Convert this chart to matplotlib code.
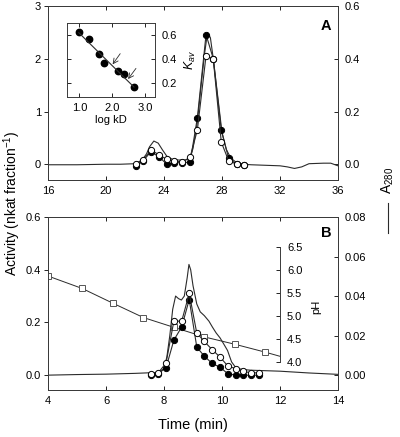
import numpy as np
import matplotlib
matplotlib.use("Agg")
import matplotlib.pyplot as plt
from matplotlib.lines import Line2D
from matplotlib.ticker import FormatStrFormatter

plt.rcParams.update({
    "font.family": ["Liberation Sans", "DejaVu Sans"],
    "font.size": 8,
    "mathtext.fontset": "custom",
    "mathtext.rm": "Liberation Sans",
    "mathtext.it": "Liberation Sans:italic",
    "axes.linewidth": 0.7,
})

# ── inset: calibration (log kD vs Kav) ──────────────────────────────────────
log_kd = [0.98, 1.30, 1.58, 1.76, 2.16, 2.36, 2.66]
kav    = [0.625, 0.565, 0.44, 0.365, 0.30, 0.275, 0.165]

# ── panel A: gel filtration ─────────────────────────────────────────────────
frac_a        = [22.05, 22.55, 23.1, 23.65, 24.2, 24.7, 25.25, 25.8, 26.3, 26.9, 27.4, 27.95, 28.45, 29.0, 29.5]
act_filled_a  = [-0.03, 0.06, 0.24, 0.14, 0.0, 0.03, 0.03, 0.04, 0.88, 2.46, 2.0, 0.65, 0.12, 0.0, -0.02]
act_open_a    = [0.0, 0.076, 0.27, 0.18, 0.09, 0.057, 0.044, 0.13, 0.65, 2.06, 1.99, 0.42, 0.07, 0.0, -0.02]

t_a280_a = [16, 18, 20, 21, 22, 22.5, 22.8, 23.0, 23.3, 23.6, 23.9, 24.2, 24.6, 25.0, 25.5, 25.8,
            26.0, 26.3, 26.6, 26.8, 27.0, 27.2, 27.4, 27.7, 28.0, 28.3, 28.6, 29.0, 29.5, 30, 31,
            32, 32.5, 33, 33.5, 34, 35, 35.5, 36]
a280_a   = [-0.002, -0.002, 0.0, 0.0, 0.002, 0.016, 0.04, 0.066, 0.088, 0.08, 0.054, 0.03, 0.018,
            0.016, 0.016, 0.024, 0.06, 0.16, 0.32, 0.42, 0.50, 0.48, 0.40, 0.26, 0.12, 0.056, 0.024,
            0.006, 0.0, -0.002, -0.004, -0.006, -0.01, -0.016, -0.01, 0.002, 0.004, 0.004, -0.006]

# ── panel B: chromatofocusing ───────────────────────────────────────────────
frac_b       = [7.54, 7.80, 8.07, 8.34, 8.61, 8.87, 9.13, 9.39, 9.66, 9.93, 10.20, 10.47, 10.73, 10.99, 11.26]
act_open_b   = [0.004, 0.009, 0.046, 0.205, 0.205, 0.31, 0.16, 0.128, 0.097, 0.069, 0.035, 0.025, 0.015, 0.009, 0.009]
act_filled_b = [0.0, 0.006, 0.028, 0.133, 0.183, 0.287, 0.107, 0.072, 0.045, 0.03, 0.006, 0.0, 0.0, 0.0, 0.0]

t_a280_b = [4.0, 5.0, 6.0, 7.0, 7.5, 7.8, 8.0, 8.1, 8.2, 8.3, 8.4, 8.5, 8.6, 8.7, 8.8, 8.86, 8.92,
            9.0, 9.13, 9.25, 9.39, 9.55, 9.67, 9.8, 9.93, 10.05, 10.19, 10.33, 10.45, 10.56, 10.75,
            11.0, 12.0, 13.0, 14.0]
a280_b   = [0.0, 0.0003, 0.0005, 0.0009, 0.0012, 0.0013, 0.0033, 0.0093, 0.02, 0.0333, 0.04, 0.0387,
            0.038, 0.04, 0.0493, 0.056, 0.0533, 0.0453, 0.036, 0.032, 0.0301, 0.0273, 0.0243, 0.0213,
            0.0189, 0.016, 0.0125, 0.0067, 0.0043, 0.0033, 0.0028, 0.0025, 0.002, 0.0011, 0.0004]

ph_t = [4.0, 5.18, 6.24, 7.29, 8.33, 9.39, 10.45, 11.49, 12.0]
ph   = [5.87, 5.60, 5.28, 4.97, 4.76, 4.55, 4.39, 4.22, 4.13]

LINE_C = "#2b2b2b"
SPINE_C = "#3a3a3a"


def style_main(ax):
    ax.tick_params(axis="x", direction="in", top=True, length=3, width=0.6, pad=4, labelsize=8)
    ax.tick_params(axis="y", direction="out", length=3, width=0.6, pad=2, labelsize=8)
    for s in ax.spines.values():
        s.set_color(SPINE_C)


def style_right(ax):
    ax.tick_params(axis="y", direction="in", length=3, width=0.6, pad=5, labelsize=8)
    for s in ax.spines.values():
        s.set_color(SPINE_C)


def activity(ax, x, filled, opened):
    ax.plot(x, filled, color=LINE_C, lw=0.8, marker="o", ms=4.5, mfc="black", mec="black", mew=0.7, zorder=3)
    ax.plot(x, opened, color=LINE_C, lw=0.8, marker="o", ms=4.5, mfc="white", mec="black", mew=0.7, zorder=4)


fig = plt.figure(figsize=(4.0, 4.37), dpi=100)
ax_a = fig.add_axes([0.12, 0.588, 0.725, 0.398])
ax_b = fig.add_axes([0.12, 0.1076, 0.725, 0.3959])

# panel A
ax_a2 = ax_a.twinx()
ax_a2.plot(t_a280_a, a280_a, color=LINE_C, lw=0.8)
ax_a.set_zorder(ax_a2.get_zorder() + 1)
ax_a.patch.set_visible(False)
activity(ax_a, frac_a, act_filled_a, act_open_a)
ax_a.set_xlim(16, 36)
ax_a.set_ylim(-0.3, 3)
ax_a.set_xticks([16, 20, 24, 28, 32, 36])
ax_a.set_yticks([0, 1, 2, 3])
ax_a2.set_ylim(-0.06, 0.6)
ax_a2.set_yticks([0.0, 0.2, 0.4, 0.6])
ax_a2.yaxis.set_major_formatter(FormatStrFormatter("%.1f"))
style_main(ax_a)
style_right(ax_a2)
ax_a.text(0.959, 0.885, "A", transform=ax_a.transAxes, ha="center", va="center",
          fontsize=10.5, fontweight="bold")

# inset
ax_in = fig.add_axes([0.1675, 0.778, 0.22, 0.169])
ax_in.set_zorder(10)
ax_in.plot(log_kd, kav, ls="none", marker="o", ms=4.6, mfc="black", mec="black")
fit = np.polyfit(log_kd, kav, 1)
xs = np.array([min(log_kd), max(log_kd)])
ax_in.plot(xs, np.polyval(fit, xs), color=LINE_C, lw=0.8)
arrow = dict(arrowstyle="->", lw=0.6, color=LINE_C, mutation_scale=9, shrinkA=0, shrinkB=0)
ax_in.annotate("", xy=(2.01, 0.356), xytext=(2.24, 0.445), arrowprops=arrow)
ax_in.annotate("", xy=(2.48, 0.233), xytext=(2.72, 0.322), arrowprops=arrow)
ax_in.set_xlim(0.62, 3.3)
ax_in.set_ylim(0.083, 0.70)
ax_in.set_xticks([1.0, 2.0, 3.0])
ax_in.xaxis.set_major_formatter(FormatStrFormatter("%.1f"))
ax_in.set_yticks([0.2, 0.4, 0.6])
ax_in.yaxis.set_major_formatter(FormatStrFormatter("%.1f"))
ax_in.tick_params(axis="x", direction="in", top=True, length=3, width=0.6, pad=4, labelsize=8)
ax_in.tick_params(axis="y", direction="in", left=True, right=True, labelleft=False,
                  labelright=True, length=3, width=0.6, pad=5, labelsize=8)
for s in ax_in.spines.values():
    s.set_color(SPINE_C)
ax_in.set_xlabel("log kD", fontsize=8, labelpad=2)
ax_in.yaxis.set_label_position("right")
ax_in.set_ylabel("$K_{av}$", fontsize=9, labelpad=4)

# panel B
ax_b2 = ax_b.twinx()
ax_b2.plot(t_a280_b, a280_b, color=LINE_C, lw=0.8)
ax_ph = ax_b.twinx()
ax_ph.plot(ph_t, ph, color=LINE_C, lw=0.7, marker="s", ms=3.8, mfc="white", mec="#555555",
           mew=0.7, markevery=list(range(len(ph_t) - 1)))
ax_b.set_zorder(ax_ph.get_zorder() + 1)
ax_b.patch.set_visible(False)
activity(ax_b, frac_b, act_filled_b, act_open_b)
ax_b.set_xlim(4, 14)
ax_b.set_ylim(-0.056, 0.6)
ax_b.set_xticks([4, 6, 8, 10, 12, 14])
ax_b.set_yticks([0.0, 0.2, 0.4, 0.6])
ax_b.yaxis.set_major_formatter(FormatStrFormatter("%.1f"))
ax_b2.set_ylim(-0.0075, 0.08)
ax_b2.set_yticks([0.0, 0.02, 0.04, 0.06, 0.08])
ax_b2.yaxis.set_major_formatter(FormatStrFormatter("%.2f"))
style_main(ax_b)
style_right(ax_b2)

ax_ph.set_ylim(3.40, 7.15)
for side in ["left", "top", "bottom"]:
    ax_ph.spines[side].set_visible(False)
ax_ph.spines["right"].set_position(("data", 12))
ax_ph.spines["right"].set_bounds(4.0, 6.5)
ax_ph.spines["right"].set_color(SPINE_C)
ax_ph.set_yticks([4.0, 4.5, 5.0, 5.5, 6.0, 6.5])
ax_ph.yaxis.set_major_formatter(FormatStrFormatter("%.1f"))
ax_ph.tick_params(axis="y", direction="in", length=3, width=0.6, pad=5, labelsize=8)
ax_ph.set_ylabel("pH", fontsize=8)
ax_ph.yaxis.set_label_coords(0.907, 0.48)

ax_b.text(0.959, 0.907, "B", transform=ax_b.transAxes, ha="center", va="center",
          fontsize=10.5, fontweight="bold")
ax_b.set_xlabel("Time (min)", fontsize=10.5, labelpad=9)

fig.text(0.03, 1 - 203 / 437, "Activity (nkat fraction$^{-1}$)", rotation=90,
         ha="center", va="center", fontsize=10)
fig.text(388 / 400, 1 - 180 / 437, "$\\mathrm{A}_{280}$", rotation=90,
         ha="center", va="center", fontsize=10)
fig.add_artist(Line2D([388 / 400, 388 / 400], [1 - 203 / 437, 1 - 233 / 437],
                      transform=fig.transFigure, color=LINE_C, lw=0.8))

fig.savefig("out.png", dpi=100)
